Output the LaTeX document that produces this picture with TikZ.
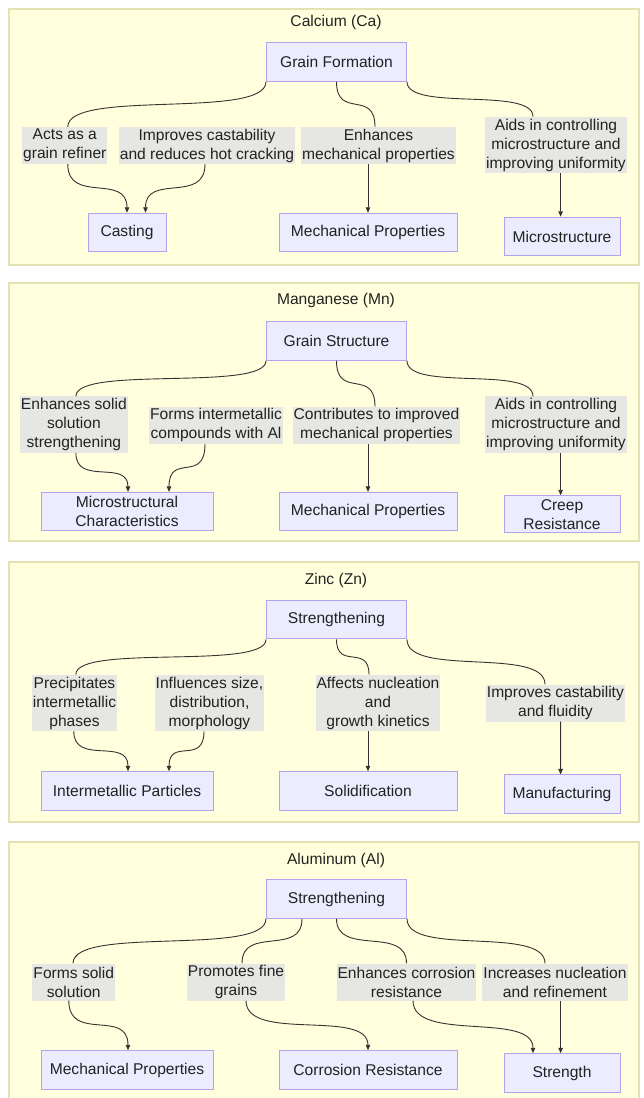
\documentclass[tikz,border=0pt]{standalone}
\usepackage{fontspec}
\setmainfont{Liberation Sans}
\usetikzlibrary{arrows.meta}
\definecolor{clfill}{HTML}{FFFFDE}
\definecolor{cldraw}{HTML}{E2E2B2}
\definecolor{ndfill}{HTML}{ECECFF}
\definecolor{nddraw}{HTML}{B4A2EA}
\definecolor{lbfill}{HTML}{E6E6E3}
\definecolor{edgec}{HTML}{333333}
\definecolor{txt}{HTML}{222222}
\begin{document}
\begin{tikzpicture}[x=1pt,y=-1pt,
  every node/.style={font=\fontsize{15.6}{19}\selectfont, text=txt},
  cluster/.style={fill=clfill, draw=cldraw, line width=1.5pt},
  cltitle/.style={inner sep=0pt},
  nbox/.style={fill=ndfill, draw=nddraw, line width=1pt, align=center, inner sep=0pt, minimum height=38.5pt},
  lab/.style={fill=lbfill, align=center, inner xsep=1pt, inner ysep=0pt, minimum height=37pt},
  lab3/.style={lab, minimum height=56.5pt},
  edgeln/.style={draw=edgec, line width=0.9pt},
  arr/.style={edgeln, -{Triangle[length=5.5pt,width=4.5pt]}}
]
\useasboundingbox[fill=white] (0,0) rectangle (643,1098);

% ---------- Calcium ----------
\draw[cluster] (9,9) rectangle (639,265);
\node[cltitle] (t1) at (336,22) {Calcium (Ca)};
\node[nbox, minimum width=140pt] (gf) at (336.5,62) {Grain Formation};
\node[lab] (l1a) at (64.8,145.5) {Acts as a\\grain refiner};
\node[lab] (l1b) at (207,145.5) {Improves castability\\and reduces hot cracking};
\node[lab] (l1c) at (378.5,145.5) {Enhances\\mechanical properties};
\node[lab3] (l1d) at (556,145) {Aids in controlling\\microstructure and\\improving uniformity};
\node[nbox, minimum width=78pt] (n1a) at (127,232.5) {Casting};
\node[nbox, minimum width=178pt] (n1b) at (368,232.5) {Mechanical Properties};
\node[nbox, minimum width=116pt] (n1c) at (562,236.5) {Microstructure};
\draw[edgeln] (gf.south west) .. controls +(0,38) and +(0,-38) .. ([xshift=3pt]l1a.north);
\draw[edgeln] (gf.south) .. controls +(0,38) and +(0,-38) .. ([xshift=-3.5pt]l1c.north);
\draw[edgeln] (gf.south east) .. controls +(0,30) and +(0,-30) .. ([xshift=-23pt]l1d.north);
\draw[arr] ([xshift=3pt]l1a.south) .. controls +(0,40) and +(0,-40) .. (n1a.north);
\draw[arr] ([xshift=-2pt]l1b.south) .. controls +(0,40) and +(0,-40) .. ([xshift=18.5pt]n1a.north);
\draw[arr] (l1c.south -| n1b.north) -- (n1b.north);
\draw[arr] ([xshift=4.6pt]l1d.south) -- ([xshift=-1.4pt]n1c.north);

% ---------- Manganese ----------
\draw[cluster] (9,283) rectangle (639,541);
\node[cltitle] (t2) at (336,300.7) {Manganese (Mn)};
\node[nbox, minimum width=140pt] (gs) at (336.5,341) {Grain Structure};
\node[lab3] (l2a) at (73.9,424.7) {Enhances solid\\solution\\strengthening};
\node[lab] (l2b) at (216,425.3) {Forms intermetallic\\compounds with Al};
\node[lab] (l2c) at (376.5,425.3) {Contributes to improved\\mechanical properties};
\node[lab3] (l2d) at (556,424.7) {Aids in controlling\\microstructure and\\improving uniformity};
\node[nbox, minimum width=172pt] (n2a) at (127,511.7) {Microstructural\\Characteristics};
\node[nbox, minimum width=178pt] (n2b) at (368,511.7) {Mechanical Properties};
\node[nbox, minimum width=116pt, minimum height=37pt] (n2c) at (562,514.3) {Creep\\Resistance};
\draw[edgeln] (gs.south west) .. controls +(0,31) and +(0,-31) .. ([xshift=2pt]l2a.north);
\draw[edgeln] (gs.south) .. controls +(0,39) and +(0,-39) .. ([xshift=-1.5pt]l2c.north);
\draw[edgeln] (gs.south east) .. controls +(0,31) and +(0,-31) .. ([xshift=-23pt]l2d.north);
\draw[arr] ([xshift=2pt]l2a.south) .. controls +(0,33) and +(0,-33) .. ([xshift=1pt]n2a.north);
\draw[arr] ([xshift=-11pt]l2b.south) .. controls +(0,40) and +(0,-40) .. ([xshift=42pt]n2a.north);
\draw[arr] (l2c.south -| n2b.north) -- (n2b.north);
\draw[arr] ([xshift=4.6pt]l2d.south) -- ([xshift=-1.4pt]n2c.north);

% ---------- Zinc ----------
\draw[cluster] (9,562) rectangle (639,822);
\node[cltitle] (t3) at (336,580) {Zinc (Zn)};
\node[nbox, minimum width=140pt] (st3) at (336.5,619.7) {Strengthening};
\node[lab3] (l3a) at (74.5,703) {Precipitates\\intermetallic\\phases};
\node[lab3] (l3b) at (209.5,703) {Influences size,\\distribution,\\morphology};
\node[lab3] (l3c) at (378,703) {Affects nucleation\\and\\growth kinetics};
\node[lab] (l3d) at (555.4,703) {Improves castability\\and fluidity};
\node[nbox, minimum width=172pt] (n3a) at (127,791) {Intermetallic Particles};
\node[nbox, minimum width=178pt] (n3b) at (368,791) {Solidification};
\node[nbox, minimum width=116pt] (n3c) at (562,794.2) {Manufacturing};
\draw[edgeln] (st3.south west) .. controls +(0,31) and +(0,-31) .. ([xshift=1.3pt]l3a.north);
\draw[edgeln] (st3.south) .. controls +(0,31) and +(0,-31) .. ([xshift=-9pt]l3c.north);
\draw[edgeln] (st3.south east) .. controls +(0,38) and +(0,-38) .. ([xshift=-10.4pt]l3d.north);
\draw[arr] ([xshift=-0.7pt]l3a.south) .. controls +(0,34) and +(0,-34) .. ([xshift=1pt]n3a.north);
\draw[arr] ([xshift=-5.5pt]l3b.south) .. controls +(0,34) and +(0,-34) .. ([xshift=42pt]n3a.north);
\draw[arr] (l3c.south -| n3b.north) -- (n3b.north);
\draw[arr] ([xshift=5.2pt]l3d.south) -- ([xshift=-1.4pt]n3c.north);

% ---------- Aluminum ----------
\draw[cluster] (9,842) rectangle (639,1120);
\node[cltitle] (t4) at (336,860) {Aluminum (Al)};
\node[nbox, minimum width=140pt] (st4) at (336.5,899) {Strengthening};
\node[lab] (l4a) at (73.8,982) {Forms solid\\solution};
\node[lab] (l4b) at (236,982) {Promotes fine\\grains};
\node[lab] (l4c) at (406.5,982) {Enhances corrosion\\resistance};
\node[lab] (l4d) at (555,982) {Increases nucleation\\and refinement};
\node[nbox, minimum width=172pt] (n4a) at (127,1070) {Mechanical Properties};
\node[nbox, minimum width=178pt] (n4b) at (368,1070) {Corrosion Resistance};
\node[nbox, minimum width=116pt] (n4c) at (562,1073) {Strength};
\draw[edgeln] (st4.south west) .. controls +(0,38) and +(0,-38) .. ([xshift=-0.8pt]l4a.north);
\draw[edgeln] ([xshift=-34.5pt]st4.south) .. controls +(0,38) and +(0,-38) .. ([xshift=6pt]l4b.north);
\draw[edgeln] (st4.south) .. controls +(0,38) and +(0,-38) .. (l4c.north);
\draw[edgeln] (st4.south east) .. controls +(0,38) and +(0,-38) .. ([xshift=-10pt]l4d.north);
\draw[arr] ([xshift=-5pt]l4a.south) .. controls +(0,42) and +(0,-42) .. ([xshift=1pt]n4a.north);
\draw[arr] ([xshift=10pt]l4b.south) .. controls +(0,42) and +(0,-42) .. (n4b.north);
\draw[arr] ([xshift=6.5pt]l4c.south) .. controls +(0,42) and +(0,-42) .. ([xshift=-29pt]n4c.north);
\draw[arr] ([xshift=5.6pt]l4d.south) -- ([xshift=-1.4pt]n4c.north);
\end{tikzpicture}
\end{document}
